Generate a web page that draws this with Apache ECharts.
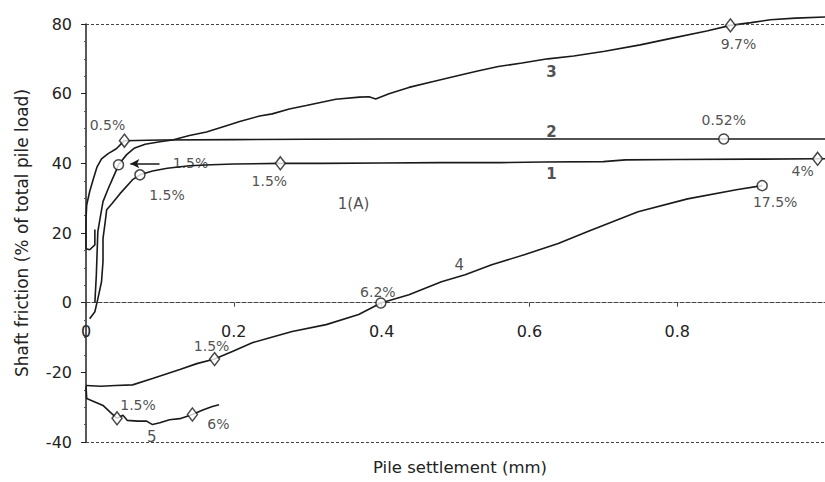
<!DOCTYPE html>
<html>
<head>
<meta charset="utf-8">
<script src="https://cdn.jsdelivr.net/npm/echarts@6/dist/echarts.min.js"></script>
<style>html,body{margin:0;padding:0;background:#fff}#c{width:825px;height:482px}</style>
</head>
<body>
<div id="c"></div>
<script>
// ---- data ----
const xTicks = [0, 0.2, 0.4, 0.6, 0.8, 1.0];
const yTicks = [-40, -20, 0, 20, 40, 60, 80];

const curve1 = [[0.005,-4.6],[0.012,-2.6],[0.016,1.1],[0.021,6],[0.023,11.8],[0.023,18.4],[0.026,23.2],[0.028,26.7],[0.035,28.4],[0.046,31.3],[0.063,35.3],[0.073,36.7],[0.09,37.8],[0.11,38.6],[0.14,39.3],[0.17,39.6],[0.2,39.8],[0.263,40],[0.32,40],[0.4,40.1],[0.48,40.2],[0.56,40.2],[0.62,40.4],[0.7,40.5],[0.73,41],[0.8,41.1],[0.9,41.2],[0.99,41.3],[1.0,41.3]];
const curve2 = [[0.012,21],[0.012,16.6],[0.005,15.2],[0.0,15.5],[0.0,20],[0.0,24.1],[0.001,28.1],[0.005,31.9],[0.01,35.6],[0.015,39],[0.021,41.3],[0.03,42.8],[0.041,44.2],[0.052,46.5],[0.1,46.7],[0.2,46.8],[0.3,46.9],[0.4,47],[0.5,47],[0.6,47],[0.7,47],[0.8,47],[0.863,47],[0.95,47],[1.0,47]];
const curve3 = [[0.012,0],[0.014,8],[0.016,20.4],[0.019,24.1],[0.023,29],[0.03,32.7],[0.036,35.6],[0.042,38.5],[0.044,39.6],[0.055,42.5],[0.065,44.3],[0.08,45.5],[0.1,46.2],[0.117,46.7],[0.14,48],[0.163,49],[0.19,50.8],[0.208,52],[0.235,53.6],[0.252,54.2],[0.275,55.6],[0.298,56.6],[0.338,58.4],[0.37,59],[0.383,59.1],[0.392,58.5],[0.41,60],[0.437,61.8],[0.47,63.5],[0.504,65.2],[0.53,66.5],[0.558,67.8],[0.59,68.8],[0.625,70],[0.66,70.8],[0.702,72.2],[0.75,74],[0.79,75.8],[0.84,78],[0.872,79.6],[0.9,80.4],[0.926,81.2],[0.96,81.7],[1.0,82]];
const curve4 = [[0,-23.8],[0.02,-24],[0.04,-23.8],[0.063,-23.6],[0.09,-21.8],[0.127,-19.2],[0.15,-17.5],[0.174,-16.2],[0.198,-14],[0.225,-11.5],[0.25,-10],[0.279,-8.3],[0.325,-6.3],[0.369,-3.4],[0.399,-0.1],[0.437,2.3],[0.481,6],[0.513,8],[0.549,10.9],[0.594,13.8],[0.639,17],[0.679,20.4],[0.747,26.1],[0.814,29.8],[0.88,32.4],[0.915,33.6]];
const curve5 = [[0,-24],[0.001,-27.5],[0.012,-28.5],[0.023,-29.5],[0.033,-31.5],[0.042,-33.2],[0.05,-32.3],[0.056,-33.8],[0.07,-34],[0.082,-34],[0.09,-35],[0.1,-34.5],[0.113,-33.6],[0.127,-33.3],[0.144,-32.1],[0.158,-30.8],[0.171,-29.8],[0.18,-29.3]];

const markerPts    = [[0.052,46.5],[0.044,39.6],[0.073,36.7],[0.263,40],[0.99,41.3],[0.863,47],[0.872,79.6],[0.915,33.6],[0.399,-0.1],[0.174,-16.2],[0.042,-33.2],[0.144,-32.1]];
const markerShapes = ['diamond','circle','circle','diamond','diamond','circle','diamond','circle','circle','diamond','diamond','diamond'];
const markerLabels = ['0.5%','1.5%','1.5%','1.5%','4%','0.52%','9.7%','17.5%','6.2%','1.5%','1.5%','6%'];

const curveNames  = ['1','2','3','4','5','1(A)'];
const curveNameAt = [[0.63,37.0],[0.63,49.1],[0.63,66.3],[0.505,10.9],[0.089,-38.7],[0.362,28.4]];

const arrowFrom = [0.0995,39.9];
const arrowTo   = [0.060,39.9];

// ---- layout / styling (not data) ----
const labelOffsets = [[-17,-16],[72,-2],[27,20],[-11,18],[-15,12],[0,-19],[8,19],[13,16],[-3,-11],[-3,-13],[21,-13],[26,10]];
const nameWeights = ['bold','bold','bold','normal','normal','normal'];
const FONT = 'DejaVu Sans';
const INK = '#1a1a1a';
const GRID = {left:86, right:-5, top:24, bottom:40};
const PLOT_H = 482 - GRID.top - GRID.bottom;
// place the x axis on the zero line: distance of y=0 above the plot bottom
const zeroOffset = -PLOT_H * (0 - yTicks[0]) / (yTicks[yTicks.length-1] - yTicks[0]);

function lineSeries(name, data){
  return {type:'line', name, data, symbol:'none', showSymbol:false, smooth:false,
    lineStyle:{color:INK, width:1.6}, z:3, animation:false, clip:false};
}

const chart = echarts.init(document.getElementById('c'), null, {renderer:'svg'});
const option = {
  animation:false,
  backgroundColor:'#ffffff',
  grid:GRID,
  xAxis:{
    type:'value', min:xTicks[0], max:xTicks[xTicks.length-1], interval:0.2,
    position:'bottom', offset:zeroOffset,
    axisLine:{onZero:false, lineStyle:{color:'#444', type:[4,2], width:1.2}},
    axisTick:{show:true, length:4, lineStyle:{color:'#444'}},
    axisLabel:{fontFamily:FONT, fontSize:16, color:'#222', margin:21, showMaxLabel:false},
    splitLine:{show:false}
  },
  yAxis:{
    type:'value', min:yTicks[0], max:yTicks[yTicks.length-1], interval:20,
    axisLine:{show:true, onZero:false, lineStyle:{color:'#222', width:1.5}},
    axisTick:{show:true, length:5, lineStyle:{color:'#222'}},
    minorTick:{show:true, splitNumber:4, length:2, lineStyle:{color:'#555'}},
    axisLabel:{fontFamily:FONT, fontSize:16, color:'#222', margin:14},
    splitLine:{show:false},
    name:'Shaft friction (% of total pile load)', nameLocation:'middle', nameGap:56, nameRotate:90,
    nameTextStyle:{fontFamily:FONT, fontSize:17, color:'#222'}
  },
  graphic:[{type:'text', x:460, y:467, style:{text:'Pile settlement (mm)', font:'16.5px "DejaVu Sans"', fill:'#222', align:'center', verticalAlign:'middle'}}],
  series:[
    Object.assign(lineSeries('1', curve1), {
      markLine:{silent:true, symbol:'none', label:{show:false}, lineStyle:{color:'#444', type:[3,2], width:1.2},
        data:[{yAxis:yTicks[yTicks.length-1]},{yAxis:yTicks[0]}]}
    }),
    lineSeries('2', curve2),
    lineSeries('3', curve3),
    lineSeries('4', curve4),
    lineSeries('5', curve5),
    {type:'line', name:'arrow', data:[], symbol:'none',
      markLine:{silent:true, symbol:['none','arrow'], symbolSize:[7,9], label:{show:false},
        lineStyle:{color:INK, width:1.5, type:'solid'},
        data:[[{coord:arrowFrom},{coord:arrowTo}]]}},
    {type:'scatter', name:'markers', z:5, clip:false,
      data: markerPts.map((p,i)=>({value:p, symbol:markerShapes[i],
        symbolSize: markerShapes[i]==='diamond' ? [10,13] : 10,
        label:{show:true, position:'inside', formatter:markerLabels[i], offset:labelOffsets[i]}})),
      itemStyle:{color:'#ffffff', borderColor:INK, borderWidth:1.5},
      label:{fontFamily:FONT, fontSize:14, color:'#222'}
    },
    {type:'scatter', name:'curveNames', z:6, symbolSize:1, clip:false,
      data: curveNameAt.map((p,i)=>({value:p, label:{formatter:curveNames[i], fontWeight:nameWeights[i]}})),
      itemStyle:{color:'rgba(0,0,0,0)'},
      label:{show:true, position:'inside', fontFamily:FONT, fontSize:15, color:'#222'}
    }
  ]
};
chart.setOption(option);
</script>
</body>
</html>
